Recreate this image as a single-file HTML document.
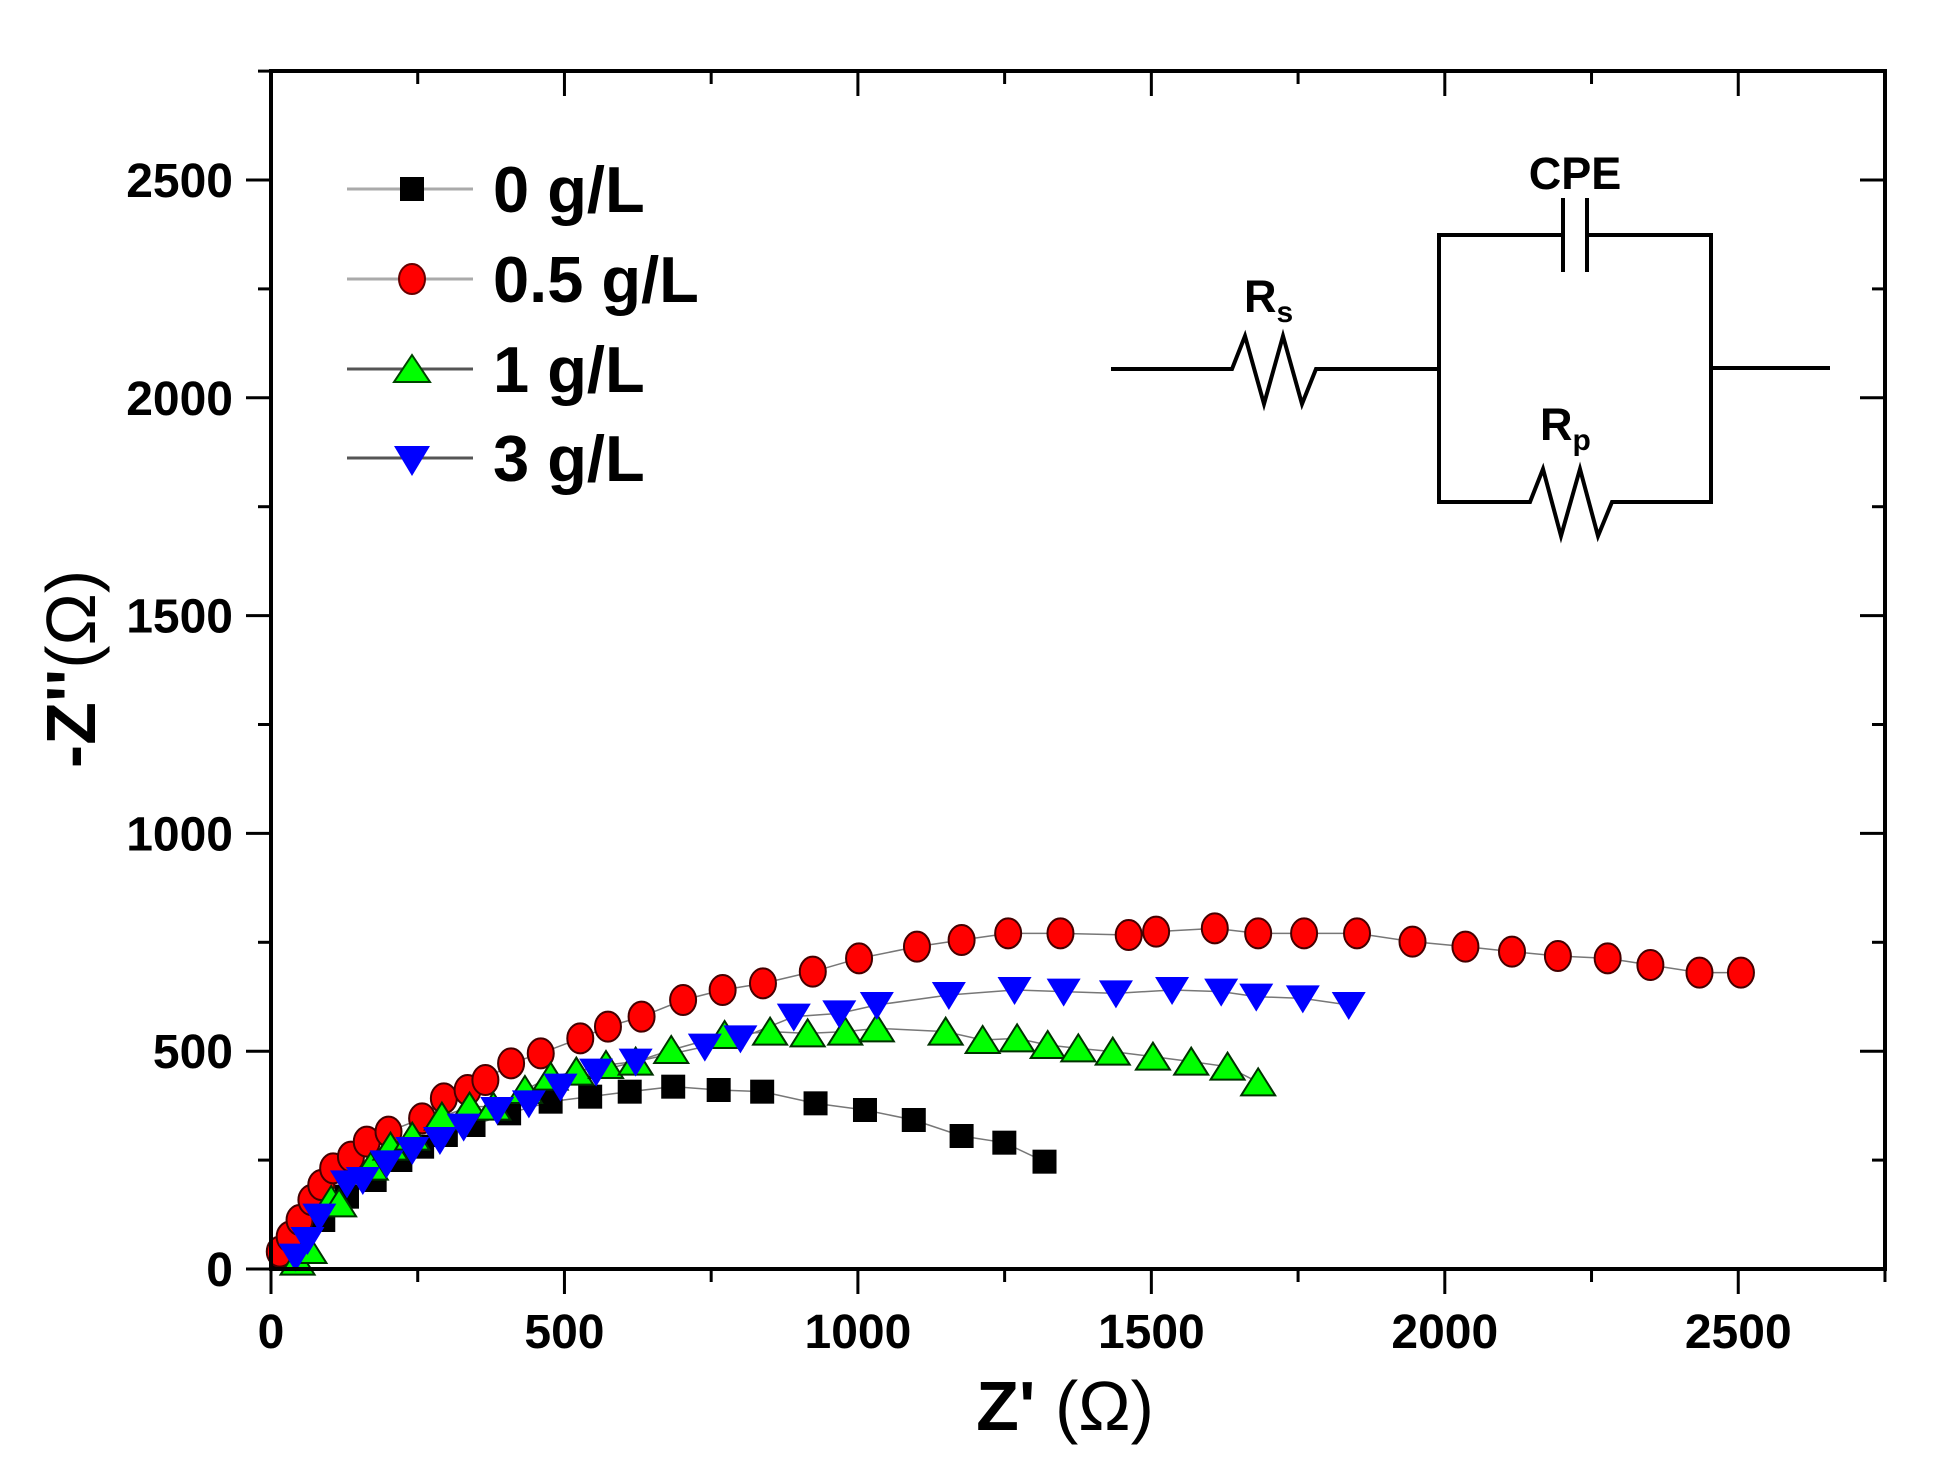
<!DOCTYPE html>
<html><head><meta charset="utf-8"><style>
html,body{margin:0;padding:0;background:#fff}
svg{display:block;font-family:"Liberation Sans",Arial,sans-serif}
</style></head><body>
<svg id="s" width="1942" height="1465" viewBox="0 0 1942 1465" xmlns="http://www.w3.org/2000/svg">
<rect width="1942" height="1465" fill="#fff"/>
<g id="ticks" stroke="#000" stroke-width="3"></g>
<g id="data"></g>
<rect x="271" y="71" width="1614" height="1198" fill="none" stroke="#000" stroke-width="4"/>
<g id="lbl" font-weight="bold" font-size="48" fill="#000"></g>
<text x="1065" y="1430" font-size="70" font-weight="bold" text-anchor="middle">Z' <tspan font-weight="normal">(Ω)</tspan></text>
<text transform="translate(95,669) rotate(-90)" font-size="70" font-weight="bold" text-anchor="middle">-Z''<tspan font-weight="normal">(Ω)</tspan></text>
<!-- legend -->
<g font-size="65" font-weight="bold">
<line x1="347" y1="189" x2="473" y2="189" stroke="#aaa" stroke-width="3"/>
<rect x="400" y="177" width="24" height="24" fill="#000"/>
<text x="493" y="212">0 g/L</text>
<line x1="347" y1="279" x2="473" y2="279" stroke="#aaa" stroke-width="3"/>
<ellipse cx="412" cy="279" rx="13" ry="15" fill="#f00" stroke="#600" stroke-width="2"/>
<text x="493" y="302">0.5 g/L</text>
<line x1="347" y1="369" x2="473" y2="369" stroke="#555" stroke-width="3"/>
<polygon points="394,382 430,382 412,355" fill="#0f0" stroke="#040" stroke-width="2"/>
<text x="493" y="392">1 g/L</text>
<line x1="347" y1="458" x2="473" y2="458" stroke="#555" stroke-width="3"/>
<polygon points="394,446 430,446 412,476" fill="#00f"/>
<text x="493" y="481">3 g/L</text>
</g>
<!-- circuit -->
<g fill="none" stroke="#000" stroke-width="4">
<polyline points="1111,369 1232,369 1245,336 1264,404 1283,336 1302,404 1316,369 1439,369"/>
<polyline points="1563,235 1439,235 1439,502 1530,502 1543,469 1561,536 1580,469 1598,536 1612,502 1711,502 1711,235 1587,235"/>
<line x1="1563" y1="198" x2="1563" y2="272"/>
<line x1="1587" y1="198" x2="1587" y2="272"/>
<line x1="1711" y1="368" x2="1830" y2="368"/>
</g>
<g font-weight="bold" font-size="45">
<text x="1575" y="189" text-anchor="middle">CPE</text>
<text x="1244" y="312">R<tspan font-size="30" dy="10">s</tspan></text>
<text x="1540" y="440">R<tspan font-size="30" dy="10">p</tspan></text>
</g>
</svg>
<script>
var NS="http://www.w3.org/2000/svg";
function el(p,t,a){var e=document.createElementNS(NS,t);for(var k in a)e.setAttribute(k,a[k]);p.appendChild(e);return e;}
var tk=document.getElementById('ticks'),lb=document.getElementById('lbl');
function X(v){return 271+v*0.5869;}function Y(v){return 1269-v*0.4356;}
for(var v=0;v<=2750;v+=250){var maj=v%500==0,L=maj?25:13;
 var x=X(v);el(tk,'line',{x1:x,y1:1269,x2:x,y2:1269+L});el(tk,'line',{x1:x,y1:71,x2:x,y2:71+L});
 var y=Y(v);el(tk,'line',{x1:271,y1:y,x2:271-L,y2:y});el(tk,'line',{x1:1885,y1:y,x2:1885-L,y2:y});
 if(maj){var t=el(lb,'text',{x:x,y:1348,'text-anchor':'middle'});t.textContent=v;
  var t2=el(lb,'text',{x:233,y:y+17,'text-anchor':'end'});t2.textContent=v;}}
function z3(a){return a.map(function(p){return[260+p[0]/2.529,950+p[1]/3];});}
function z4(a){return a.map(function(p){return[850+p[0]/1.568,920+p[1]/3];});}
var red=z3([[50,905],[75,860],[100,810],[130,750],[155,705],[185,655],[230,620],[270,575],[325,545],[410,505],[465,445],[525,420],[570,390],[635,340],[710,310],[810,265],[880,230],[965,200],[1070,150],[1170,120],[1272,100],[1398,65],[1515,25]]).concat(z4([[105,80],[175,60],[248,40],[330,40],[437,45],[480,35],[572,25],[640,40],[712,40],[795,40],[882,65],[965,80],[1038,95],[1110,108],[1188,115],[1255,135],[1332,158],[1397,158]]));
var blue=z3([[90,920],[120,870],[150,800],[220,700],[260,690],[320,640],[385,600],[455,570],[515,530],[600,480],[680,460],[760,410],[850,365],[950,335],[1125,290],[1215,265],[1350,200],[1465,190],[1560,165]]).concat(z4([[155,225],[258,210],[335,215],[417,220],[505,210],[582,215],[637,230],[710,235],[782,255]]));
var green=z3([[95,935],[125,900],[180,750],[200,760],[280,650],[330,590],[385,560],[460,500],[530,470],[590,470],[670,420],[735,380],[800,365],[875,345],[950,335],[1040,300],[1175,255],[1290,245],[1385,250],[1480,245],[1560,235]]).concat(z4([[150,335],[208,360],[262,355],[310,375],[358,385],[412,395],[475,410],[535,425],[592,440],[640,487]]));
var black=z3([[60,920],[160,810],[220,740],[290,690],[355,630],[410,590],[470,555],[540,525],[630,490],[735,455],[835,440],[935,425],[1045,410],[1160,420],[1270,425],[1405,460],[1530,480]]).concat(z4([[100,600],[175,648],[242,668],[305,725]]));
var d=document.getElementById('data');
function line(a,c){el(d,'polyline',{points:a.map(function(p){return p.join(',')}).join(' '),fill:'none',stroke:c,'stroke-width':1.5});}
line(black,'#777');line(red,'#777');line(green,'#777');line(blue,'#777');
black.forEach(function(p){el(d,'rect',{x:p[0]-12,y:p[1]-12,width:24,height:24,fill:'#000'});});
red.forEach(function(p){el(d,'ellipse',{cx:p[0],cy:p[1],rx:13,ry:15,fill:'#f00',stroke:'#400','stroke-width':2});});
green.forEach(function(p){var x=p[0],y=p[1];el(d,'polygon',{points:(x-17)+','+(y+13)+' '+(x+17)+','+(y+13)+' '+x+','+(y-14),fill:'#0f0',stroke:'#030','stroke-width':2});});
blue.forEach(function(p){var x=p[0],y=p[1];el(d,'polygon',{points:(x-17)+','+(y-13)+' '+(x+17)+','+(y-13)+' '+x+','+(y+15),fill:'#00f'});});
</script>
</body></html>
